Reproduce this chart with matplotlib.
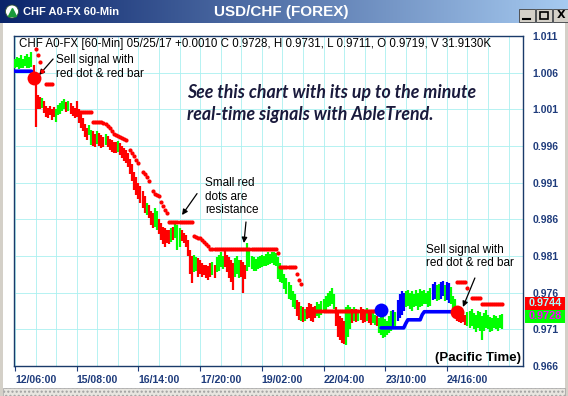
import numpy as np
import matplotlib
matplotlib.use("Agg")
import matplotlib.pyplot as plt
from matplotlib.patches import Rectangle, Circle
from matplotlib.colors import LinearSegmentedColormap

nan = np.nan

# hourly bars, bar 0 = 12/06:00 (USD/CHF 60-min)
highs = [
    1.0078, 1.0082, 1.0080, 1.0084, 1.0079, 1.0083, 1.0086, 1.0081, 1.0088, 1.0070,
    1.0047, 1.0030, 1.0027, 1.0025, 1.0022, 1.0014, 1.0012, 1.0015, 1.0010, 1.0013,
    1.0010, 1.0016, 1.0018, 1.0021, 1.0024, 1.0020, 1.0022, 1.0018, 1.0015, 1.0012,
    1.0022, 1.0010, 1.0004, 0.9998, 0.9990, 0.9985, 0.9988, 0.9982, 0.9980, 0.9976,
    0.9980, 0.9978, 0.9975, 0.9972, 0.9977, 0.9974, 0.9970, 0.9968, 0.9966, 0.9965,
    0.9967, 0.9964, 0.9960, 0.9957, 0.9954, 0.9950, 0.9942, 0.9935, 0.9925, 0.9918,
    0.9910, 0.9905, 0.9898, 0.9892, 0.9882, 0.9880, 0.9872, 0.9868, 0.9875, 0.9872,
    0.9860, 0.9855, 0.9850, 0.9848, 0.9845, 0.9845, 0.9848, 0.9850, 0.9855, 0.9852,
    0.9848, 0.9845, 0.9842, 0.9838, 0.9832, 0.9818, 0.9810, 0.9811, 0.9808, 0.9807,
    0.9805, 0.9800, 0.9798, 0.9798, 0.9796, 0.9800, 0.9802, 0.9798, 0.9808, 0.9812,
    0.9815, 0.9810, 0.9818, 0.9812, 0.9808, 0.9805, 0.9800, 0.9807, 0.9810, 0.9805,
    0.9805, 0.9802, 0.9798, 0.9828, 0.9818, 0.9810, 0.9808, 0.9806, 0.9808, 0.9810,
    0.9812, 0.9810, 0.9813, 0.9815, 0.9813, 0.9816, 0.9815, 0.9814, 0.9808, 0.9800,
    0.9795, 0.9785, 0.9780, 0.9775, 0.9770, 0.9762, 0.9758, 0.9750, 0.9747, 0.9742,
    0.9740, 0.9738, 0.9740, 0.9746, 0.9744, 0.9740, 0.9742, 0.9747, 0.9745, 0.9748,
    0.9752, 0.9755, 0.9760, 0.9762, 0.9766, 0.9758, 0.9740, 0.9735, 0.9728, 0.9725,
    0.9722, 0.9740, 0.9743, 0.9740, 0.9738, 0.9740, 0.9738, 0.9736, 0.9740, 0.9738,
    0.9735, 0.9739, 0.9737, 0.9734, 0.9736, 0.9730, 0.9728, 0.9726, 0.9730, 0.9728,
    0.9724, 0.9722, 0.9728, 0.9735, 0.9736, 0.9733, 0.9750, 0.9758, 0.9762, 0.9760,
    0.9762, 0.9764, 0.9760, 0.9762, 0.9758, 0.9763, 0.9760, 0.9765, 0.9762, 0.9764,
    0.9760, 0.9762, 0.9766, 0.9772, 0.9775, 0.9770, 0.9772, 0.9774, 0.9776, 0.9770,
    0.9775, 0.9773, 0.9768, 0.9755, 0.9752, 0.9742, 0.9738, 0.9735, 0.9733, 0.9730,
    0.9733, 0.9735, 0.9738, 0.9732, 0.9730, 0.9735, 0.9733, 0.9728, 0.9732, 0.9736,
    0.9730, 0.9727, 0.9725, 0.9730, 0.9728, 0.9725, 0.9730, 0.9731,
]
lows = [
    1.0066, 1.0068, 1.0065, 1.0067, 1.0066, 1.0069, 1.0067, 1.0066, 1.0068, 1.0045,
    0.9986, 1.0010, 1.0010, 1.0012, 1.0005, 1.0000, 0.9998, 1.0002, 0.9995, 0.9999,
    0.9993, 1.0002, 1.0004, 1.0008, 1.0010, 1.0006, 1.0008, 1.0003, 1.0001, 0.9998,
    1.0000, 0.9992, 0.9985, 0.9980, 0.9972, 0.9968, 0.9975, 0.9962, 0.9960, 0.9958,
    0.9963, 0.9960, 0.9957, 0.9958, 0.9962, 0.9958, 0.9955, 0.9952, 0.9950, 0.9951,
    0.9952, 0.9948, 0.9944, 0.9940, 0.9937, 0.9932, 0.9922, 0.9912, 0.9900, 0.9893,
    0.9888, 0.9882, 0.9875, 0.9868, 0.9866, 0.9862, 0.9852, 0.9848, 0.9850, 0.9846,
    0.9840, 0.9832, 0.9826, 0.9822, 0.9828, 0.9826, 0.9829, 0.9832, 0.9834, 0.9818,
    0.9822, 0.9830, 0.9828, 0.9822, 0.9810, 0.9785, 0.9773, 0.9788, 0.9790, 0.9782,
    0.9785, 0.9781, 0.9784, 0.9780, 0.9777, 0.9782, 0.9784, 0.9780, 0.9788, 0.9790,
    0.9795, 0.9792, 0.9795, 0.9788, 0.9780, 0.9775, 0.9764, 0.9782, 0.9785, 0.9780,
    0.9782, 0.9760, 0.9778, 0.9790, 0.9795, 0.9792, 0.9790, 0.9789, 0.9792, 0.9793,
    0.9795, 0.9796, 0.9797, 0.9798, 0.9799, 0.9800, 0.9798, 0.9796, 0.9778, 0.9775,
    0.9773, 0.9765, 0.9758, 0.9752, 0.9750, 0.9740, 0.9738, 0.9728, 0.9723, 0.9722,
    0.9720, 0.9721, 0.9724, 0.9726, 0.9722, 0.9720, 0.9725, 0.9728, 0.9726, 0.9730,
    0.9732, 0.9736, 0.9740, 0.9742, 0.9745, 0.9738, 0.9715, 0.9700, 0.9695, 0.9692,
    0.9690, 0.9688, 0.9700, 0.9710, 0.9718, 0.9722, 0.9720, 0.9721, 0.9723, 0.9718,
    0.9720, 0.9722, 0.9719, 0.9716, 0.9718, 0.9716, 0.9714, 0.9705, 0.9702, 0.9698,
    0.9700, 0.9702, 0.9705, 0.9708, 0.9710, 0.9712, 0.9722, 0.9725, 0.9730, 0.9735,
    0.9740, 0.9742, 0.9738, 0.9735, 0.9740, 0.9742, 0.9736, 0.9740, 0.9742, 0.9745,
    0.9744, 0.9740, 0.9742, 0.9750, 0.9752, 0.9748, 0.9750, 0.9752, 0.9755, 0.9748,
    0.9750, 0.9746, 0.9745, 0.9738, 0.9735, 0.9722, 0.9720, 0.9718, 0.9720, 0.9716,
    0.9715, 0.9712, 0.9715, 0.9710, 0.9706, 0.9712, 0.9708, 0.9695, 0.9708, 0.9712,
    0.9710, 0.9706, 0.9708, 0.9712, 0.9710, 0.9708, 0.9712, 0.9711,
]
# g = green bar, r = red (sell) bar, b = blue (buy) bar
bar_codes = (
    "gggggggggr" "rrrgrrrrrr" "gggggrgrrr" "rrrrrrggrr" "grrrgrrrrr"
    "grrrrrrrrr" "rrrrgrrrgg" "rrrrrrgrgg" "grrrrrrggr" "rrrrrrgrgg"
    "ggrrrrrggg" "rrrggggggg" "gggggggggg" "gggggggrrg" "rgrrrrrggg"
    "ggggggrrrr" "rgggrgrgrr" "rgrrggrggg" "ggggbgbbbb" "gggggggggg"
    "gggbbggbbg" "bbgggrrrrr" "gggggggggg" "gggggggg"
)

# small red dots = resistance stop
red_stop = [
    nan, nan, nan, nan, nan, nan, nan, nan, nan, nan,
    1.0092, 1.0084, 1.0074, 1.0062, nan, 1.0045, 1.0045, 1.0045, 1.0045, nan,
    nan, nan, nan, nan, nan, nan, nan, nan, 1.0006, 1.0006,
    1.0006, 1.0006, 1.0006, 1.0006, 1.0006, 1.0006, 1.0006, 1.0006, 0.9993, 0.9993,
    0.9993, 0.9993, 0.9993, 0.9992, 0.9990, 0.9987, 0.9984, 0.9980, 0.9977, 0.9975,
    0.9974, 0.9972, 0.9971, 0.9969, 0.9968, nan, 0.9955, 0.9951, 0.9946, 0.9941,
    0.9937, nan, 0.9924, 0.9922, 0.9918, 0.9912, nan, 0.9898, 0.9895, 0.9893,
    0.9892, 0.9883, 0.9878, 0.9873, 0.9869, 0.9857, 0.9857, 0.9857, 0.9857, 0.9857,
    0.9857, 0.9857, 0.9857, 0.9857, 0.9857, 0.9857, 0.9857, 0.9837, 0.9836, 0.9835,
    0.9834, 0.9832, 0.9829, 0.9826, 0.9823, 0.9820, 0.9820, 0.9820, 0.9820, 0.9820,
    0.9820, 0.9820, 0.9820, 0.9820, 0.9820, 0.9820, 0.9820, 0.9820, 0.9820, 0.9820,
    0.9820, 0.9820, 0.9820, 0.9820, 0.9820, 0.9820, 0.9820, 0.9820, 0.9820, 0.9820,
    0.9820, 0.9820, 0.9820, 0.9820, 0.9820, 0.9820, 0.9820, 0.9820, 0.9814, 0.9795,
    0.9795, 0.9795, 0.9795, 0.9795, 0.9795, 0.9795, 0.9795, 0.9785, 0.9777, 0.9772,
    nan, nan, 0.9735, 0.9735, 0.9735, 0.9735, 0.9735, 0.9735, 0.9735, 0.9735,
    0.9735, 0.9735, 0.9735, 0.9735, 0.9735, 0.9735, 0.9735, 0.9735, 0.9735, 0.9735,
    0.9735, 0.9735, 0.9735, 0.9735, 0.9735, 0.9735, 0.9735, 0.9735, 0.9735, 0.9735,
    0.9735, 0.9735, 0.9735, 0.9735, 0.9735, 0.9735, nan, nan, nan, nan,
    nan, nan, nan, nan, nan, nan, nan, nan, nan, nan,
    nan, nan, nan, nan, nan, nan, nan, nan, nan, nan,
    nan, nan, nan, nan, nan, nan, nan, nan, nan, nan,
    nan, nan, nan, nan, nan, 0.9775, 0.9775, 0.9775, 0.9775, 0.9775,
    0.9766, nan, 0.9753, 0.9753, 0.9753, 0.9753, 0.9753, 0.9744, 0.9744, 0.9744,
    0.9744, 0.9744, 0.9744, 0.9744, 0.9744, 0.9744, 0.9744, 0.9744,
]
# blue support line
blue_stop = [
    1.0062, 1.0062, 1.0062, 1.0062, 1.0062, 1.0062, 1.0062, 1.0062, 1.0062, nan,
] + [nan] * 168 + [
    0.9712, 0.9712, 0.9712, 0.9712, 0.9712, 0.9712, 0.9712, 0.9712, 0.9712, 0.9712,
    0.9712, 0.9712, 0.9718, 0.9723, 0.9723, 0.9723, 0.9723, 0.9723, 0.9723, 0.9723,
    0.9730, 0.9734, 0.9734, 0.9734, 0.9734, 0.9734, 0.9734, 0.9734, 0.9734, 0.9734,
    0.9734, 0.9734, 0.9734, 0.9734, 0.9734, 0.9734,
] + [nan] * 24

# big signal dots
signal_bars = [9, 178, 215]
signal_prices = [1.0053, 0.9736, 0.9734]
signal_colors = ["#ff0000", "#0000ff", "#ff0000"]

tick_bars = [0, 30, 60, 90, 120, 150, 180, 210]
tick_labels = ["12/06:00", "15/08:00", "16/14:00", "17/20:00",
               "19/02:00", "22/04:00", "23/10:00", "24/16:00"]
last_close = 0.9728
last_stop = 0.9744

W, H = 568, 396
fig = plt.figure(figsize=(W / 100, H / 100), dpi=100)
fig.patch.set_facecolor("white")

ax = fig.add_axes([14 / W, 30 / H, 509 / W, 330 / H])
ax.set_xlim(-0.5, 247)
ax.set_ylim(0.966, 1.011)

cmap = {"g": "#00ff00", "r": "#ff0000", "b": "#0000ff"}
x = np.arange(len(highs))
ax.vlines(x, lows, highs, colors=[cmap[c] for c in bar_codes], lw=1.6, zorder=3)
ax.plot(x, red_stop, "o", color="#ff0000", ms=3, mew=0, zorder=4)
ax.plot(x, blue_stop, "-", color="#0000ff", lw=2.6, solid_capstyle="round", zorder=4)
for b, p, c in zip(signal_bars, signal_prices, signal_colors):
    ax.plot(b, p, "o", color=c, ms=10, mew=0, zorder=5)

navy = "#1f3c7c"
ax.set_yticks(np.arange(0.966, 1.0111, 0.005))
ax.set_yticklabels(["%.3f" % v for v in np.arange(0.966, 1.0111, 0.005)])
ax.yaxis.tick_right()
ax.tick_params(axis="y", length=0, pad=7, labelsize=7.5, labelcolor=navy)
ax.set_xticks(tick_bars)
ax.set_xticklabels(tick_labels)
ax.tick_params(axis="x", length=3.5, width=0.8, color=navy, pad=3, labelsize=7.6, labelcolor=navy)
for lab in ax.get_xticklabels() + ax.get_yticklabels():
    lab.set_fontweight("bold")
    lab.set_family("Liberation Sans")
for lab in ax.get_xticklabels():
    lab.set_ha("left")
for lab in ax.get_yticklabels():
    lab.set_ha("left")
ax.set_xticks(np.arange(0, 247, 10), minor=True)
ax.tick_params(axis="x", which="minor", length=0)
ax.grid(which="both", color="#aaf0f0", lw=0.6, zorder=0)
for s in ax.spines.values():
    s.set_color("#1a3a6a")
    s.set_linewidth(1.0)

ax.text(0.01, 0.975,
        "CHF A0-FX [60-Min] 05/25/17 +0.0010 C 0.9728, H 0.9731, L 0.9711, O 0.9719, V 31.9130K",
        transform=ax.transAxes, fontsize=8.3, family="Liberation Sans", va="center", ha="left")
big_font = dict(fontsize=12.8, family="Lato", fontweight="bold", style="italic", color="#1a1a3c")
ax.text(0.34, 0.811, "See this chart with its up to the minute", transform=ax.transAxes,
        va="baseline", ha="left", **big_font)
ax.text(0.34, 0.745, "real-time signals with AbleTrend.", transform=ax.transAxes,
        va="baseline", ha="left", **big_font)
ax.text(0.996, 0.024, "(Pacific Time)", transform=ax.transAxes, ha="right", va="center",
        fontsize=9.5, fontweight="bold", family="Liberation Sans")

note = dict(fontsize=8.5, family="Liberation Sans", ha="left", va="center", linespacing=1.12)
arrow = dict(arrowstyle="-|>", color="black", lw=0.9, mutation_scale=8, shrinkA=0, shrinkB=0)
ax.text(19.9, 1.00677, "Sell signal with\nred dot & red bar", **note)
ax.annotate("", xy=(11.7, 1.00568), xytext=(18.5, 1.00786), arrowprops=arrow)
ax.text(92.4, 0.98911, "Small red\ndots are\nresistance", **note)
ax.annotate("", xy=(81.2, 0.98659), xytext=(88.5, 0.98951), arrowprops=arrow)
ax.annotate("", xy=(111.3, 0.98277), xytext=(112.3, 0.98564), arrowprops=arrow)
ax.text(199.8, 0.98087, "Sell signal with\nred dot & red bar", **note)
ax.annotate("", xy=(217.8, 0.97405), xytext=(223.6, 0.97800), arrowprops=arrow)

# last price boxes on the right scale
bh = 13 * 0.045 / 330
ytr = ax.get_yaxis_transform()
ax.add_patch(Rectangle((1.004, last_close - bh / 2), 0.081, bh, transform=ytr,
                       fc="#00ff00", ec="none", clip_on=False, zorder=6))
ax.text(1.0445, last_close, "%.4f" % last_close, transform=ytr, ha="center", va="center",
        color="#ff00ff", fontsize=7.8, fontweight="bold", family="Liberation Sans",
        clip_on=False, zorder=7)
ax.add_patch(Rectangle((1.004, last_stop + 0.00015 - bh / 2), 0.081, bh, transform=ytr,
                       fc="#ff0000", ec="none", clip_on=False, zorder=8))
ax.text(1.0445, last_stop + 0.00015, "%.4f" % last_stop, transform=ytr, ha="center", va="center",
        color="#aaffff", fontsize=7.8, fontweight="bold", family="Liberation Sans",
        clip_on=False, zorder=9)

# window frame: title bar, borders, scroll bar
ov = fig.add_axes([0, 0, 1, 1], zorder=3)
ov.patch.set_alpha(0)
grad = LinearSegmentedColormap.from_list("tb", ["#0a246a", "#a6caf0"])
ov.imshow(np.linspace(0, 1, 256)[None, :], extent=(0, W, 23, 0), cmap=grad, aspect="auto")
ov.add_patch(Rectangle((0, 23), 3, H - 23, fc="#d4d0c8", ec="none"))
ov.add_patch(Rectangle((W - 3, 23), 3, H - 23, fc="#d4d0c8", ec="none"))
ov.add_patch(Rectangle((3, 388), W - 6, 8, fc="#e8e6e0", ec="#a0a0a0", hatch="....", lw=0.5))
ov.add_patch(Circle((12, 11.5), 6.5, fc="white", ec="#305030", lw=0.6))
ov.plot(12, 12, marker="^", color="#1a9a3a", ms=6)
ov.text(23, 12, "CHF A0-FX 60-Min", color="white", fontsize=8, fontweight="bold",
        family="Liberation Sans", va="center", ha="left")
ov.text(281, 12, "USD/CHF (FOREX)", color="white", fontsize=11, fontweight="bold",
        family="Liberation Sans", va="center", ha="center")
for bx in [519, 536, 553]:
    ov.add_patch(Rectangle((bx, 9), 15.5, 13, fc="#d4d0c8", ec="#404040", lw=0.6))
ov.plot([523, 530], [19, 19], color="black", lw=1.5)
ov.add_patch(Rectangle((540, 12), 8, 7, fc="none", ec="black", lw=1.2))
ov.text(561, 15.5, "X", fontsize=8, fontweight="bold", ha="center", va="center", family="DejaVu Sans")
ov.set_xlim(0, W)
ov.set_ylim(H, 0)
ov.axis("off")

fig.savefig("out.png", dpi=100)
